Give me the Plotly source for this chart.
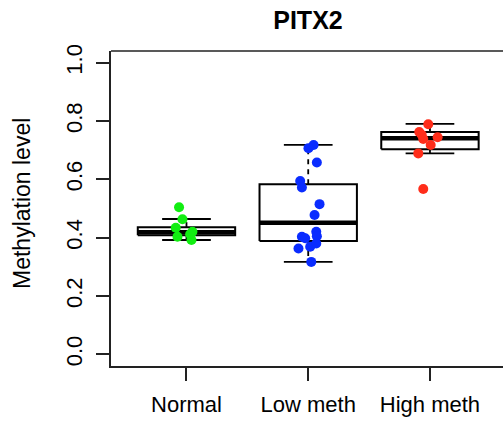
import plotly.graph_objects as go

categories = ["Normal", "Low meth", "High meth"]
colors = ["#11ee11", "#0a2cff", "#ff2d1a"]

whisker_low = [0.392, 0.317, 0.689]
q1 = [0.408, 0.389, 0.703]
median = [0.419, 0.451, 0.741]
q3 = [0.436, 0.583, 0.762]
whisker_high = [0.464, 0.718, 0.790]

normal_y = [0.504, 0.463, 0.434, 0.403, 0.420, 0.392, 0.412]
normal_dx = [-0.061, -0.033, -0.088, -0.074, 0.049, 0.041, 0.030]
low_y = [0.718, 0.707, 0.658, 0.594, 0.572, 0.515, 0.478, 0.420, 0.403, 0.405,
         0.398, 0.363, 0.369, 0.380, 0.317]
low_dx = [0.044, 0.002, 0.071, -0.066, -0.052, 0.093, 0.052, 0.066, -0.052, 0.071,
          -0.025, -0.080, 0.016, 0.066, 0.025]
high_y = [0.789, 0.762, 0.753, 0.738, 0.744, 0.718, 0.689, 0.567]
high_dx = [-0.014, -0.088, -0.068, -0.055, 0.063, 0.006, -0.096, -0.055]

y_ticks = [0.0, 0.2, 0.4, 0.6, 0.8, 1.0]
y_tick_labels = ["0.0", "0.2", "0.4", "0.6", "0.8", "1.0"]
title_text = "PITX2"
y_title = "Methylation level"

FONT = "Liberation Sans, Arial, sans-serif"
fig = go.Figure()

box_w = 0.4
cap_w = 0.2
for i in range(len(categories)):
    c = i + 1
    # box
    fig.add_trace(go.Scatter(
        x=[c - box_w, c + box_w, c + box_w, c - box_w, c - box_w],
        y=[q1[i], q1[i], q3[i], q3[i], q1[i]],
        mode="lines", line=dict(color="black", width=2), hoverinfo="skip", showlegend=False))
    # median
    fig.add_trace(go.Scatter(
        x=[c - box_w, c + box_w], y=[median[i], median[i]],
        mode="lines", line=dict(color="black", width=4.5), hoverinfo="skip", showlegend=False))
    # whiskers
    fig.add_trace(go.Scatter(
        x=[c, c, None, c, c],
        y=[q3[i], whisker_high[i], None, q1[i], whisker_low[i]],
        mode="lines", line=dict(color="black", width=1.8, dash="5px,5px"),
        hoverinfo="skip", showlegend=False))
    # caps
    fig.add_trace(go.Scatter(
        x=[c - cap_w, c + cap_w, None, c - cap_w, c + cap_w],
        y=[whisker_high[i], whisker_high[i], None, whisker_low[i], whisker_low[i]],
        mode="lines", line=dict(color="black", width=1.8), hoverinfo="skip", showlegend=False))

groups = [(normal_y, normal_dx), (low_y, low_dx), (high_y, high_dx)]
for i, (ys, dxs) in enumerate(groups):
    fig.add_trace(go.Scatter(
        x=[i + 1 + d for d in dxs], y=ys, mode="markers",
        marker=dict(color=colors[i], size=10, line=dict(width=0)),
        name=categories[i], showlegend=False))

fig.update_layout(
    width=503, height=423,
    margin=dict(l=111, r=0, t=51, b=57),
    paper_bgcolor="white", plot_bgcolor="white",
    font=dict(family=FONT, size=22, color="black"),
    title=dict(text="<b>" + title_text + "</b>", x=308 / 503, xanchor="center",
               y=1 - 20 / 423, yanchor="middle", font=dict(size=25, family=FONT, color="black")),
    xaxis=dict(range=[0.38, 3.6], tickvals=[1, 2, 3], ticktext=categories,
               ticks="outside", ticklen=13, tickwidth=1.5, tickcolor="#222",
               showline=True, linewidth=1.6, linecolor="#222",
               showgrid=False, zeroline=False, tickfont=dict(size=22),
               ticklabelstandoff=5),
    yaxis=dict(range=[-0.04, 1.04], tickvals=y_ticks, ticktext=y_tick_labels,
               tickangle=-90, ticks="outside", ticklen=13, tickwidth=1.5, tickcolor="#222",
               showline=True, linewidth=1.6, linecolor="#222",
               showgrid=False, zeroline=False, tickfont=dict(size=22),
               ticklabelstandoff=5),
    shapes=[dict(type="line", xref="paper", yref="paper", x0=0, x1=1, y0=1, y1=1,
                 line=dict(color="#222", width=1.6))],
    annotations=[dict(text=y_title, xref="paper", yref="paper",
                      x=(22 - 111) / 392, y=(366 - 204) / 315,
                      xanchor="center", yanchor="middle", textangle=-90,
                      showarrow=False, font=dict(size=23, family=FONT, color="black"))],
)

fig.write_html("out.html")
